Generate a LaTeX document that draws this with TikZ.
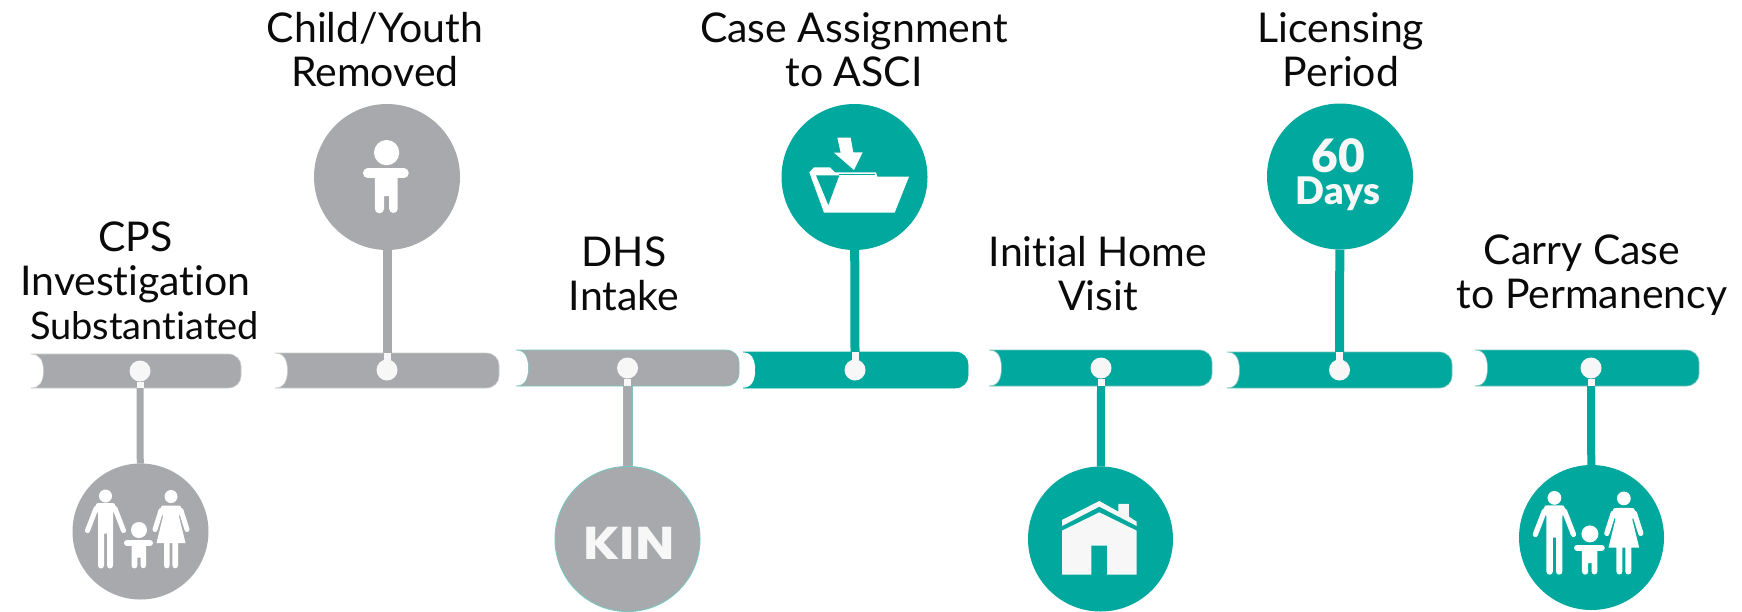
\documentclass[tikz,border=0pt]{standalone}
\usepackage{fontspec}
\setmainfont{Lato}[Ligatures=CommonOff]
\newfontfamily\heavyfont{Lato Black}
\newfontfamily\widefont{Poppins}[UprightFont=* Bold]
\definecolor{tlgray}{HTML}{A7A9AC}
\definecolor{tlteal}{HTML}{00A89D}
\definecolor{tledge}{HTML}{7CC4BE}
\definecolor{tlwhite}{HTML}{F7F7F7}
\definecolor{tlink}{HTML}{0A0A0A}
\tikzset{
  lab/.style={font=\fontsize{41}{44}\selectfont,text=tlink,align=center,inner sep=0pt,anchor=center},
  iconlab/.style={text=tlwhite,inner sep=0pt},
  bubble/.style={circle,inner sep=0pt,outer sep=0pt},
  dotnode/.style={circle,inner sep=0pt,outer sep=0pt,minimum size=21pt},
  limb/.style={draw=white,line cap=round,line join=round},
}
% x0 x1 ytop ybot colour edge
\newcommand\tlbar[6]{%
  \pgfmathsetmacro\ymid{(#3+#4)/2}
  \path[fill=#5,draw=#6,line width=.6pt]
    (#1,#3) -- ({#2-13},#3)
    .. controls ({#2-5},#3) and (#2,{#3+6}) .. (#2,{#3+12})
    -- (#2,{#4-12})
    .. controls (#2,{#4-6}) and ({#2-5},#4) .. ({#2-13},#4)
    -- (#1,#4)
    .. controls ({#1+9},#4) and ({#1+12.5},{#4-7}) .. ({#1+12.5},\ymid)
    .. controls ({#1+12.5},{#3+7}) and ({#1+9},#3) .. (#1,#3) -- cycle;
}
% id dotx doty cx cy r width colour edgey
\newcommand\tlstem[9]{%
  \coordinate (e#1) at (#2,#9);
  \node[dotnode] (d#1) at (#2,#3) {};
  \node[bubble,minimum size={2*#6 pt}] (c#1) at (#4,#5) {};
  \fill[#8] (c#1) circle (#6);
  \draw[#8,line width=#7pt] (e#1) -- (c#1);
  \draw[tlwhite,line width=7pt] (d#1) -- (e#1);
  \fill[tlwhite] (d#1) circle (10.5);
}
\newcommand\childicon[3]{%
  \begin{scope}[shift={(#1,#2)},scale=#3]
    \fill[white] (-1.5,-1.5) circle (8);
    \draw[limb,line width=#3*6pt] (-13.5,11.5) -- (9.5,11.5);
    \fill[white] (-9,9) -- (5.5,9) -- (5.5,34) arc[start angle=0,end angle=180,radius=2.7] -- (0.1,26) -- (-3.1,26) -- (-3.1,34) arc[start angle=0,end angle=180,radius=2.95] -- cycle;
  \end{scope}}
\newcommand\familyicon[3]{%
  \begin{scope}[shift={(#1,#2)},scale=#3]
    % man
    \fill[white] (-35,-35.5) circle (6.5);
    \draw[limb,line width=#3*5pt] (-44.5,-23) -- (-53,-1);
    \draw[limb,line width=#3*5pt] (-25.5,-23) -- (-17,-1);
    \fill[white] (-45,-25) .. controls (-44,-28.5) .. (-41,-28.5) -- (-29,-28.5) .. controls (-26,-28.5) .. (-25,-25) -- (-27.5,-18)
      -- (-27.5,34) arc[start angle=0,end angle=180,radius=3] -- (-33.5,2) -- (-36.5,2) -- (-36.5,34) arc[start angle=0,end angle=180,radius=3] -- (-42.5,-18) -- cycle;
    % woman
    \fill[white] (30.5,-35) circle (6.5);
    \draw[limb,line width=#3*5pt] (20.5,-21) -- (14.5,-2);
    \draw[limb,line width=#3*5pt] (40.5,-21) -- (46.5,-2);
    \fill[white] (20,-23) .. controls (21,-26) .. (24,-26) -- (37,-26) .. controls (40,-26) .. (41,-23) -- (38.5,-15)
      -- (45,11.5) -- (37.5,11.5) -- (37.5,34) arc[start angle=0,end angle=180,radius=2.8] -- (31.9,11.5) -- (29.1,11.5) -- (29.1,34) arc[start angle=0,end angle=180,radius=2.8] -- (23.5,11.5) -- (16,11.5) -- (22.5,-15) -- cycle;
  \end{scope}
  \childicon{#1}{#2}{#3}}
\begin{document}
\begin{tikzpicture}[x=1pt,y=-1pt]
\useasboundingbox (0,0) rectangle (1742,611);
\fill[white] (0,0) rectangle (1742,611);
% bars
\tlbar{31}{241}{354}{388}{tlgray}{tlgray!60}
\tlbar{275}{499}{353}{388}{tlgray}{tlgray!60}
\tlbar{743}{968}{352}{388}{tlteal}{tlteal}
\tlbar{516}{739}{350}{386}{tlgray}{tledge}
\tlbar{989}{1212}{350}{386}{tlteal}{tledge}
\tlbar{1227}{1452}{352}{388}{tlteal}{tledge}
\tlbar{1475}{1699}{350}{386}{tlteal}{tledge}
% stems
\tlstem{1}{140}{371}{140.5}{531.5}{68}{7}{tlgray}{388}
\tlstem{2}{387}{370}{387}{177}{73}{9}{tlgray}{353}
\draw[tledge,line width=9.5pt] (628,386) -- (628,470);
\tlstem{3}{627.5}{368}{627.5}{539}{72.5}{8}{tlgray}{386}
\draw[tledge,line width=1pt] (c3) circle (72.5);
\tlstem{4}{855}{370}{854.5}{177}{73}{9}{tlteal}{352}
\tlstem{5}{1101}{368}{1100.5}{539}{72.5}{8}{tlteal}{386}
\tlstem{6}{1339.5}{370}{1340}{176.5}{73}{9}{tlteal}{352}
\tlstem{7}{1591}{368}{1591.5}{537.5}{72.5}{8}{tlteal}{386}
% icons
\familyicon{140.5}{531.5}{1}
\childicon{389}{155}{1.58}
\familyicon{1591.5}{535.5}{1.06}
\node[iconlab,font=\fontsize{46}{46}\widefont,xscale=1.14] (kin) at (629,543) {KIN};
\node[iconlab,font=\fontsize{46}{46}\heavyfont,anchor=base,text height=32pt,text depth=0pt] (sixty) at (1338,172) {60};
\node[iconlab,font=\fontsize{38}{38}\heavyfont,anchor=base,text height=24pt,text depth=7pt] (days) at (1338,204) {Days};
% folder
\begin{scope}[shift={(720,90)},x=0.3333pt,y=-0.3333pt]
  \fill[white] (352,143) -- (392,143) -- (400,187) -- (428,187) -- (402,240) -- (342,188) -- (362,188) -- cycle;
  \fill[white] (268,247) -- (282,232) -- (330,232) -- (345,247) -- (468,247) -- (472,260) -- (567,260) -- (524,368) -- (312,368) -- cycle;
  \fill[tlteal] (288,256) -- (358,256) -- (325,345) -- cycle;
  \draw[tlteal,line width=1pt] (358,255) -- (464,255);
\end{scope}
% house
\begin{scope}[shift={(980,340)},x=0.3333pt,y=-0.3333pt]
  \fill[tlwhite] (246,540) -- (358,483) -- (415,515) -- (415,492) -- (447,492) -- (447,530) -- (470,545) -- (470,558) -- (358,500) -- (246,558) -- cycle;
  \fill[tlwhite] (246,572) -- (358,517) -- (470,572) -- (470,704) -- (381,704) -- (381,617) -- (334,617) -- (334,704) -- (246,704) -- cycle;
\end{scope}
% labels
\node[lab] (l1) at (135.5,280.5) {CPS\\Investigation\\\hspace*{18pt}{\fontsize{38}{44}\selectfont Substantiated}};
\node[lab] (l2) at (375,50) {Child/Youth\\Removed};
\node[lab] (l3) at (624,274) {DHS\\Intake};
\node[lab] (l4) at (854,50) {Case Assignment\\to ASCI};
\node[lab] (l5) at (1098,274) {Initial Home\\Visit};
\node[lab] (l6) at (1341,50) {Licensing\\Period};
\node[lab] (l7) at (1592,275.5) {Carry Case\hspace*{20pt}\\to Permanency};
\end{tikzpicture}
\end{document}
